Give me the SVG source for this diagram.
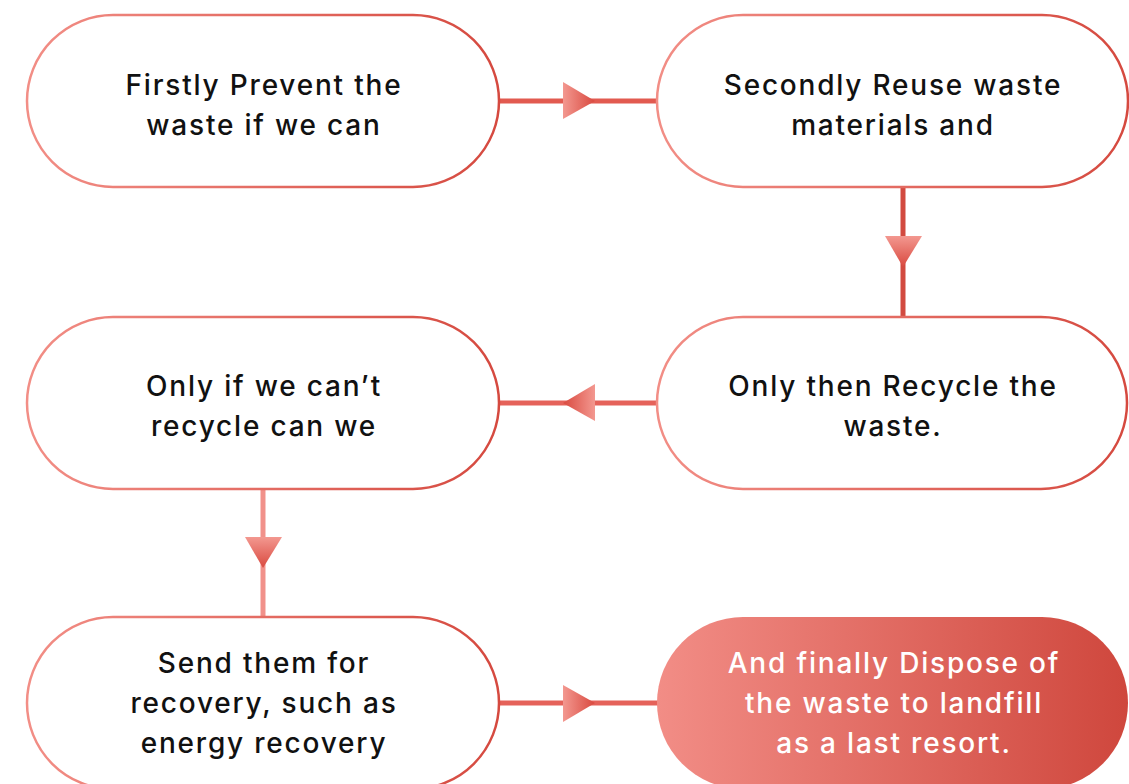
<svg xmlns="http://www.w3.org/2000/svg" width="1129" height="784" viewBox="0 0 1129 784">
  <defs>
    <linearGradient id="gStroke" x1="0" y1="0" x2="1" y2="0">
      <stop offset="0" stop-color="#f28e86"/>
      <stop offset="1" stop-color="#d5493f"/>
    </linearGradient>
    <linearGradient id="gFill" x1="0" y1="0" x2="1" y2="0">
      <stop offset="0" stop-color="#f28d86"/>
      <stop offset="1" stop-color="#cf473d"/>
    </linearGradient>
    <linearGradient id="gRight" x1="0" y1="0" x2="1" y2="0">
      <stop offset="0" stop-color="#f39890"/>
      <stop offset="1" stop-color="#d9493f"/>
    </linearGradient>
    <linearGradient id="gLeft" x1="1" y1="0" x2="0" y2="0">
      <stop offset="0" stop-color="#f39890"/>
      <stop offset="1" stop-color="#d9493f"/>
    </linearGradient>
    <linearGradient id="gDown" x1="0" y1="0" x2="0" y2="1">
      <stop offset="0" stop-color="#f39890"/>
      <stop offset="1" stop-color="#d9493f"/>
    </linearGradient>
  </defs>
  <style>
    .node { fill: #ffffff; stroke: url(#gStroke); stroke-width: 2.5; }
    .final { fill: url(#gFill); stroke: none; }
    .lbl { font-family: Inter, "Liberation Sans", sans-serif; font-size: 28px; font-weight: 500; letter-spacing: 1.8px; fill: #111111; text-anchor: middle; }
    .lblw { fill: #ffffff; }
    .conn { stroke-width: 5; fill: none; }
  </style>
  <rect width="1129" height="784" fill="#ffffff"/>
  <g id="connectors">
    <line class="conn" x1="499" y1="101" x2="658" y2="101" stroke="#e25a50"/>
    <polygon points="563,82 595,101 563,119" fill="url(#gRight)"/>
    <line class="conn" x1="903" y1="187" x2="903" y2="317" stroke="#d24a40"/>
    <polygon points="885,236 922,236 903,267" fill="url(#gDown)"/>
    <line class="conn" x1="499" y1="403" x2="658" y2="403" stroke="#e5625a"/>
    <polygon points="595,384 563,403 595,421" fill="url(#gLeft)"/>
    <line class="conn" x1="263" y1="489" x2="263" y2="617" stroke="#f1918a"/>
    <polygon points="245,537 282,537 263,568" fill="url(#gDown)"/>
    <line class="conn" x1="499" y1="703" x2="658" y2="703" stroke="#e5625a"/>
    <polygon points="563,685 595,703 563,722" fill="url(#gRight)"/>
  </g>
  <g id="node-prevent">
    <rect class="node" x="27" y="15" width="472" height="172" rx="86"/>
    <text class="lbl" x="264" y="95">Firstly Prevent the</text>
    <text class="lbl" x="264" y="135">waste if we can</text>
  </g>
  <g id="node-reuse">
    <rect class="node" x="657" y="15" width="471" height="172" rx="86"/>
    <text class="lbl" x="893" y="95">Secondly Reuse waste</text>
    <text class="lbl" x="893" y="135">materials and</text>
  </g>
  <g id="node-recycle">
    <rect class="node" x="657" y="317" width="470" height="172" rx="86"/>
    <text class="lbl" x="893" y="396">Only then Recycle the</text>
    <text class="lbl" x="893" y="436">waste.</text>
  </g>
  <g id="node-cant-recycle">
    <rect class="node" x="27" y="317" width="472" height="172" rx="86"/>
    <text class="lbl" x="264" y="396">Only if we can’t</text>
    <text class="lbl" x="264" y="436">recycle can we</text>
  </g>
  <g id="node-recovery">
    <rect class="node" x="27" y="617" width="472" height="172" rx="86"/>
    <text class="lbl" x="264" y="673">Send them for</text>
    <text class="lbl" x="264" y="713">recovery, such as</text>
    <text class="lbl" x="264" y="753">energy recovery</text>
  </g>
  <g id="node-dispose">
    <rect class="final" x="657" y="617" width="471" height="172" rx="86"/>
    <text class="lbl lblw" x="894" y="673">And finally Dispose of</text>
    <text class="lbl lblw" x="894" y="713">the waste to landfill</text>
    <text class="lbl lblw" x="894" y="753">as a last resort.</text>
  </g>
</svg>
